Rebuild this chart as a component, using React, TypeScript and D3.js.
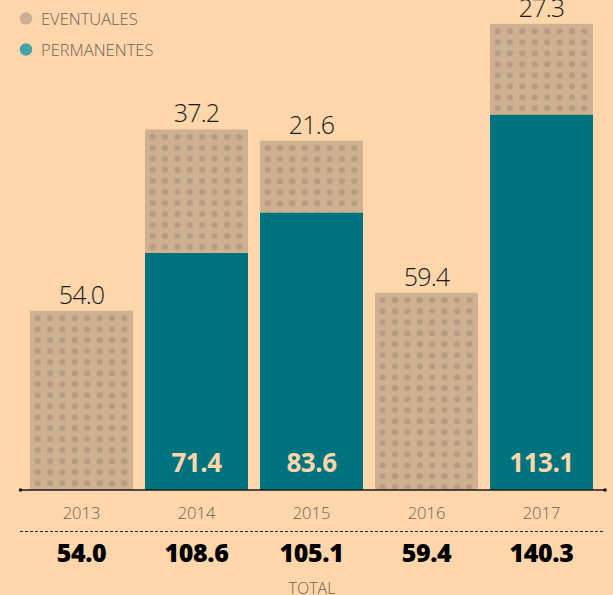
import React from "react";
import * as d3 from "d3";

const years = ["2013", "2014", "2015", "2016", "2017"];
const permanentes = [0, 71.4, 83.6, 0, 113.1];
const eventuales = [54.0, 37.2, 21.6, 59.4, 27.3];
const totals = ["54.0", "108.6", "105.1", "59.4", "140.3"];
const legendLabels = ["EVENTUALES", "PERMANENTES"];

const W = 613;
const H = 595;
const BG = "#fdd7ab";
const TEAL = "#00737f";
const TAN = "#cfb090";
const DOT = "#b59b82";
const GRAY = "#6e6055";
const LIGHT_FONT = "'Open Sans', 'Noto Sans', sans-serif";

export default function App() {
  const x = d3
    .scaleBand<string>()
    .domain(years)
    .range([24, 599])
    .paddingInner(12 / 115)
    .paddingOuter(6 / 115);
  const y = d3.scaleLinear().domain([0, 150]).range([490, -8]);
  const bw = x.bandwidth();

  return (
    <svg
      width={W}
      height={H}
      style={{ position: "absolute", left: 0, top: 0, background: BG }}
    >
      <rect x={0} y={0} width={W} height={H} fill={BG} />
      <defs>
        {years.map((yr, i) => {
          const x0 = x(yr)!;
          const top = y(permanentes[i] + eventuales[i]);
          return (
            <pattern
              key={yr}
              id={`dots-${yr}`}
              patternUnits="userSpaceOnUse"
              x={x0}
              y={top}
              width={12.4}
              height={11}
            >
              <rect width={12.4} height={11} fill={TAN} />
              <ellipse cx={7.6} cy={7.4} rx={3.1} ry={2.9} fill={DOT} />
            </pattern>
          );
        })}
      </defs>

      {/* Legend */}
      <circle cx={26} cy={18.5} r={6.2} fill="#ccb096" />
      <text x={41} y={24.5} fontFamily={LIGHT_FONT} fontWeight={300} fontSize={16.5} fill={GRAY}>
        {legendLabels[0]}
      </text>
      <circle cx={26} cy={49.5} r={6.2} fill="#42a2a6" />
      <text x={41} y={55.5} fontFamily={LIGHT_FONT} fontWeight={300} fontSize={16.5} fill={GRAY}>
        {legendLabels[1]}
      </text>

      {/* Bars */}
      {years.map((yr, i) => {
        const x0 = x(yr)!;
        const p = permanentes[i];
        const e = eventuales[i];
        const pTop = y(p);
        const eTop = y(p + e);
        return (
          <g key={yr}>
            {p > 0 && (
              <rect x={x0} y={pTop} width={bw} height={y(0) - pTop} fill={TEAL} />
            )}
            <rect
              x={x0}
              y={eTop}
              width={bw}
              height={pTop - eTop}
              fill={`url(#dots-${yr})`}
            />
            <text
              x={x0 + bw / 2}
              y={eTop - 7}
              textAnchor="middle"
              fontFamily={LIGHT_FONT}
              fontWeight={300}
              fontSize={25}
              fill="#1a1a1a"
              letterSpacing={-0.8}
            >
              {e.toFixed(1)}
            </text>
            {p > 0 && (
              <text
                x={x0 + bw / 2}
                y={y(0) - 18}
                textAnchor="middle"
                fontFamily={LIGHT_FONT}
                fontWeight={700}
                fontSize={26}
                fill="#fdd7ab"
                letterSpacing={-0.5}
              >
                {p.toFixed(1)}
              </text>
            )}
            <text
              x={x0 + bw / 2}
              y={519}
              textAnchor="middle"
              fontFamily={LIGHT_FONT}
              fontWeight={300}
              fontSize={16.5}
              fill={GRAY}
            >
              {yr}
            </text>
            <text
              x={x0 + bw / 2}
              y={562}
              textAnchor="middle"
              fontFamily={LIGHT_FONT}
              fontWeight={800}
              fontSize={25}
              fill="#000"
              letterSpacing={-0.4}
            >
              {totals[i]}
            </text>
          </g>
        );
      })}

      {/* Axis */}
      <line x1={20} x2={605} y1={490} y2={490} stroke="#1a1a1a" strokeWidth={1.5} />
      <circle cx={20.5} cy={490} r={1.8} fill="#1a1a1a" />
      <circle cx={605} cy={490} r={1.8} fill="#1a1a1a" />

      {/* Dashed separator */}
      <line
        x1={20}
        x2={605}
        y1={531.5}
        y2={531.5}
        stroke="#222"
        strokeWidth={1}
        strokeDasharray="3,2"
      />

      <text
        x={312}
        y={594}
        textAnchor="middle"
        fontFamily={LIGHT_FONT}
        fontWeight={300}
        fontSize={16}
        fill={GRAY}
      >
        TOTAL
      </text>
    </svg>
  );
}
